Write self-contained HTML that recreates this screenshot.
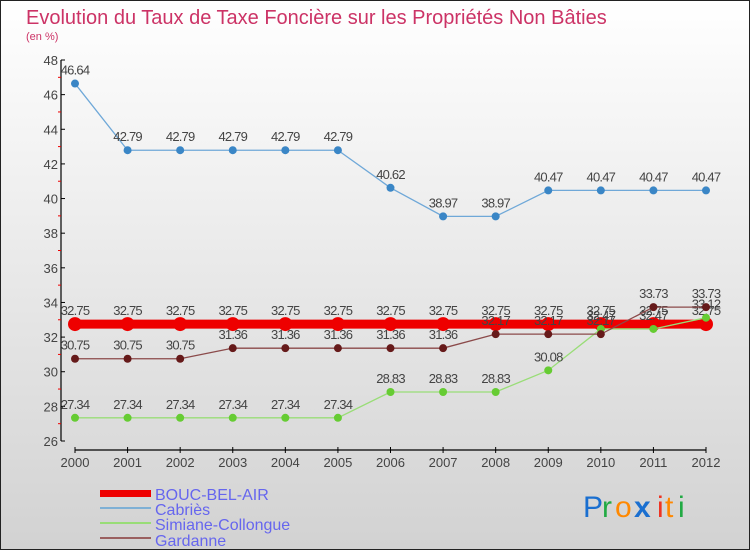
<!DOCTYPE html>
<html><head><meta charset="utf-8"><style>
body{margin:0;padding:0}
svg text{font-family:"Liberation Sans",sans-serif}
</style></head><body>
<svg width="750" height="550" xmlns="http://www.w3.org/2000/svg">
<defs>
<linearGradient id="bg" x1="0" y1="0" x2="0" y2="1"><stop offset="0" stop-color="#ffffff"/><stop offset="1" stop-color="#d2d2d2"/></linearGradient>
</defs>
<rect x="0.5" y="0.5" width="749" height="549" fill="url(#bg)" stroke="#222"/>
<text x="26" y="24" font-size="20" fill="#cc3366">Evolution du Taux de Taxe Foncière sur les Propriétés Non Bâties</text>
<text x="26" y="40" font-size="11" fill="#cc3366">(en %)</text>
<g id="axes"></g>
<g id="series"></g>
<g id="legend">
<rect x="100" y="490" width="51" height="7" fill="#ee0000"/>
<text x="155" y="500" font-size="16" fill="#6666ee">BOUC-BEL-AIR</text>
<rect x="100" y="507" width="51" height="2" fill="#7fb0d5"/>
<text x="155" y="515" font-size="16" fill="#6666ee">Cabriès</text>
<rect x="100" y="522" width="51" height="2" fill="#99dd77"/>
<text x="155" y="530" font-size="16" fill="#6666ee">Simiane-Collongue</text>
<rect x="100" y="537" width="51" height="2" fill="#9a6060"/>
<text x="155" y="546" font-size="16" fill="#6666ee">Gardanne</text>
</g>
<g font-size="30" font-family="'DejaVu Sans',sans-serif">
<text x="583" y="517" fill="#1a6fd0">P</text><text x="602" y="517" fill="#22aa44">r</text><text x="615" y="517" fill="#ff8800">o</text><text x="634" y="517" fill="#1a6fd0" font-weight="bold">x</text><text x="657" y="517" fill="#ee3322">i</text><text x="665" y="517" fill="#ff8800">t</text><text x="678" y="517" fill="#22aa44">i</text>
</g>
</svg>
<script>
const years=["2000","2001","2002","2003","2004","2005","2006","2007","2008","2009","2010","2011","2012"];
const yTicks=[26,28,30,32,34,36,38,40,42,44,46,48];
const bouc=[32.75,32.75,32.75,32.75,32.75,32.75,32.75,32.75,32.75,32.75,32.75,32.75,32.75];
const cabries=[46.64,42.79,42.79,42.79,42.79,42.79,40.62,38.97,38.97,40.47,40.47,40.47,40.47];
const simiane=[27.34,27.34,27.34,27.34,27.34,27.34,28.83,28.83,28.83,30.08,32.47,32.47,33.12];
const gardanne=[30.75,30.75,30.75,31.36,31.36,31.36,31.36,31.36,32.17,32.17,32.17,33.73,33.73];
const NS="http://www.w3.org/2000/svg";
const X=i=>75+i*(706-75)/(years.length-1);
const Y=v=>441-(v-26)*(441-60)/22;
function mk(tag,attrs,parent){const e=document.createElementNS(NS,tag);for(const k in attrs)e.setAttribute(k,attrs[k]);parent.appendChild(e);return e;}
const ax=document.getElementById('axes');
let l=mk('line',{x1:61,y1:60,x2:61,y2:441,stroke:'#000','stroke-width':1.2},ax);


yTicks.forEach(v=>{
 mk('line',{x1:61,y1:Y(v),x2:65,y2:Y(v),stroke:'#000'},ax);
 if(v<48){mk('line',{x1:58,y1:Y(v+1),x2:61,y2:Y(v+1),stroke:'#e00'},ax);}
 const t=mk('text',{x:58,y:Y(v)+5,'font-size':13,'text-anchor':'end',fill:'#444'},ax);t.textContent=v;
 
 
});
l=mk('line',{x1:75,y1:450,x2:706,y2:450,stroke:'#000','stroke-width':1.2},ax);


years.forEach((yr,i)=>{
 mk('line',{x1:X(i),y1:447,x2:X(i),y2:453,stroke:'#000'},ax);
 const t=mk('text',{x:X(i),y:467,'font-size':13,'text-anchor':'middle',fill:'#444'},ax);t.textContent=yr;
 
 
});
const sg=document.getElementById('series');
function series(name,data,color,lw,r,dot){
 const g=mk('g',{},sg);
 
 
 const pts=data.map((v,i)=>X(i)+','+Y(v)).join(' ');
 mk('polyline',{points:pts,fill:'none',stroke:color,'stroke-width':lw},g);
 data.forEach((v,i)=>{
  const c=mk('circle',{cx:X(i),cy:Y(v),r:r,fill:dot},g);
  
  
  const t=mk('text',{x:X(i),y:Y(v)-9,'font-size':13,'text-anchor':'middle',fill:'#444','letter-spacing':'-0.8'},g);
  t.textContent=String(v);
  
  
 });
}
series('bouc',bouc,'#ee0000',9,7,'#ee0000');
series('cabries',cabries,'#6fa8d8',1.3,4,'#3a86c6');
series('simiane',simiane,'#99dd77',1.3,4,'#66cc33');
series('gardanne',gardanne,'#8b4a4a',1.3,4,'#661a1a');
</script>
</body></html>
